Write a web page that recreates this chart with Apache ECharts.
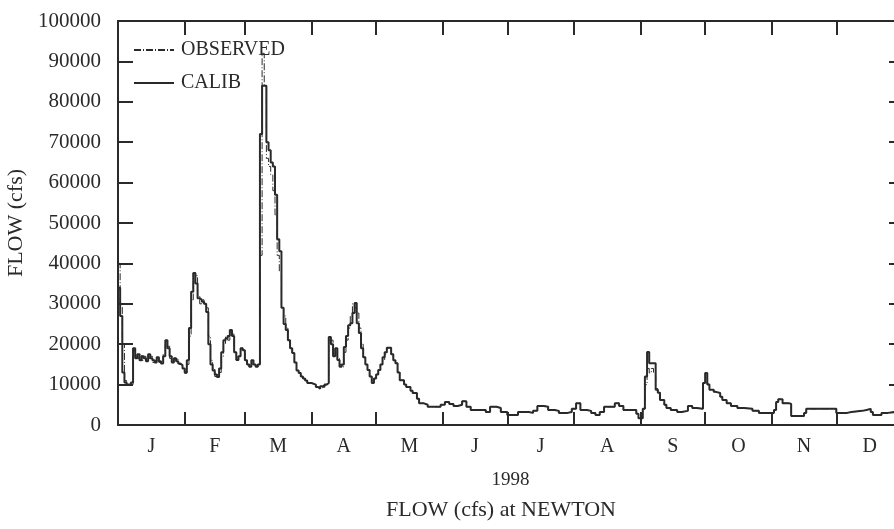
<!DOCTYPE html>
<html>
<head>
<meta charset="utf-8">
<script src="https://cdn.jsdelivr.net/npm/echarts@6/dist/echarts.min.js"></script>
<style>
html,body{margin:0;padding:0;background:#fff;}
#chart{width:894px;height:529px;}
</style>
</head>
<body>
<div id="chart"></div>
<script>
// day of year (0 = Jan 1) and flows, cfs
let days = [0,1,2,3,4,6,7,8,9,10,11,12,13,14,15,16,17,18,19,20,21,22,23,24,25,26,27,28,29,30,
    31,32,33,34,35,36,37,38,39,40,41,42,43,44,45,46,47,48,49,50,51,52,53,54,55,56,57,58,59,60,
    61,62,63,64,65,66,67,68,69,70,71,72,73,74,75,76,77,78,79,80,81,82,83,84,85,86,87,88,90,92,
    93,94,95,96,97,98,99,100,101,102,103,104,105,106,107,108,109,110,111,112,113,114,115,116,117,118,119,120,
    121,122,123,124,125,126,127,128,129,130,131,133,134,136,137,139,140,142,144,148,150,152,154,156,158,160,
    162,164,168,171,173,176,178,181,186,191,193,195,198,200,203,205,209,211,213,215,218,220,222,224,226,229,
    231,233,235,239,241,242,244,245,246,247,248,249,250,251,252,254,255,257,260,262,265,267,269,272,273,274,
    275,277,278,280,281,283,285,288,291,295,298,303,305,306,307,309,312,313,319,320,334,339,341,346,348,350,
    351,355,358,361,365];
let calibFlow = [34000,27000,13000,10500,10000,10500,19000,16500,17500,16000,17000,16500,15800,17500,16500,16000,15500,16800,15800,15200,17000,21000,19000,17000,15500,16500,15800,15200,14800,14000,
    13000,16000,24000,33000,37600,35000,31400,31000,30500,30000,28000,20000,15000,13500,12500,11900,14000,18000,21000,21500,22000,23500,22000,18000,16100,17000,19000,18500,16000,15000,
    14400,16000,15000,14400,15000,72000,84000,84000,70000,68000,65000,64000,57000,46000,43000,29000,25000,23500,21000,19000,17800,15500,13500,12900,12000,11500,11000,10400,10000,9400,
    9000,9600,9400,10000,10400,21800,20000,17000,19000,16100,14400,15000,19300,22000,24700,25200,27700,30200,25200,22800,19000,16800,15000,13600,12000,10400,11500,12500,
    13600,15000,16800,18000,19100,19100,17500,16000,15300,13000,11100,10000,9400,8500,7900,6500,5400,5000,4500,4500,5000,5700,5200,4700,5000,5900,
    4500,3700,3700,3200,4500,4200,3200,2500,3200,3000,3500,4700,4500,3700,3500,3000,3200,4000,5400,3700,3500,3000,2500,3200,4500,4500,
    5400,4700,3700,3700,2800,1700,4000,12000,18100,15300,15300,15300,8700,8000,6200,5000,4200,3700,3200,3500,4700,4200,4000,10400,12900,10000,
    8700,8200,7900,7000,6200,5400,4700,4200,4000,3500,3000,3000,3700,5700,6400,5400,5200,2200,3000,4000,3000,3200,3500,3700,4000,3200,
    2500,3000,3200,2800,3000];
let observedFlow = [40000,30000,20000,11000,10000,10000,18500,17000,16500,17500,16000,17000,15800,16500,17000,15500,16000,16800,15500,15200,17500,20500,19500,16500,16000,16500,16200,15000,15000,14000,
    12800,15000,22000,31000,37600,37000,32000,30000,31000,30000,29000,22000,16000,14000,12000,12500,13000,17000,20000,22000,21000,23000,22500,18000,16000,17000,19000,18500,16000,15000,
    14400,15000,14800,14400,15000,42000,92000,84000,66000,64000,62000,58000,52000,42000,38000,29000,27000,24000,21000,19000,17800,15500,13500,12900,12000,11500,11000,10400,10000,9400,
    9000,9200,9600,10000,10400,21000,21000,17500,18000,16500,15000,14400,18000,21000,24000,27000,30000,29000,27700,24000,20000,16800,15000,13600,12000,10400,11500,12500,
    13600,15000,16000,17500,19100,19100,17500,16000,15300,13000,11100,10000,9400,8500,7900,6500,5400,5000,4500,4500,5000,5700,5200,4700,5000,5900,
    4500,3700,3700,3200,4500,4200,3200,2500,3200,3000,3500,4700,4500,3700,3500,3000,3200,4000,5400,3700,3500,3000,2500,3200,4500,4500,
    5400,4700,3700,3700,2800,1700,4000,10000,14000,12900,14000,12900,9000,8200,6200,5000,4200,3700,3200,3500,4700,4200,4000,10400,10400,10000,
    8700,8200,7900,7000,6200,5400,4700,4200,4000,3500,3000,3000,3700,5700,6400,5400,5200,2200,3000,4000,3000,3200,3500,3700,4000,3200,
    2500,3000,3200,2800,3000];
let months = ['J','F','M','A','M','J','J','A','S','O','N','D'];
let monthStarts = [31,59,90,120,151,181,212,243,273,304,334];
let monthMids = [15.5,45,74.5,105,135.5,166,196.5,227.5,258,288.5,319,349.5];

let dom = document.getElementById("chart");
let chart = echarts.init(dom, null, {renderer: 'canvas'});
let font = 'Liberation Serif';
let ink = '#2a2a2a';

let calibData = [];
let observedData = [];
for (let i in days) {
    calibData.push([days[i], calibFlow[i]]);
    observedData.push([days[i], observedFlow[i]]);
}

// frame: all four sides drawn as axes, ticks pointing inward
let frameLine = {onZero: false, lineStyle: {color: ink, width: 2}};

let option = {
    backgroundColor: '#fff',
    animation: false,
    textStyle: {fontFamily: font, color: ink},
    grid: {left: 118, top: 21, width: 785, height: 404, outerBoundsMode: 'none', containLabel: false},
    legend: {
        orient: 'vertical',
        left: 128,
        top: 35,
        itemWidth: 40,
        itemHeight: 12,
        itemGap: 13,
        data: ['OBSERVED', 'CALIB'],
        itemStyle: {opacity: 0},
        textStyle: {fontFamily: font, fontSize: 20, color: ink, padding: [0, 0, 0, 2]}
    },
    xAxis: [{
        type: 'value',
        min: 0,
        max: 365,
        position: 'bottom',
        name: '1998',
        nameLocation: 'middle',
        nameGap: 46,
        nameTextStyle: {fontFamily: font, fontSize: 19, color: ink},
        axisLine: frameLine,
        axisTick: {inside: true, length: 13, customValues: monthStarts, lineStyle: {color: ink, width: 2}},
        axisLabel: {
            customValues: monthMids,
            margin: 12,
            fontFamily: font,
            fontSize: 20,
            color: ink,
            formatter: function (v) {
                let k = monthMids.indexOf(v);
                return k >= 0 ? months[k] : '';
            }
        },
        splitLine: {show: false}
    }, {
        type: 'value',
        min: 0,
        max: 365,
        position: 'top',
        axisLine: frameLine,
        axisTick: {inside: true, length: 14, customValues: monthStarts, lineStyle: {color: ink, width: 2}},
        axisLabel: {show: false},
        splitLine: {show: false}
    }],
    yAxis: [{
        type: 'value',
        min: 0,
        max: 100000,
        interval: 10000,
        position: 'left',
        name: 'FLOW (cfs)',
        nameLocation: 'middle',
        nameGap: 88,
        nameTextStyle: {fontFamily: font, fontSize: 22, color: ink},
        axisLine: {show: true, onZero: false, lineStyle: {color: ink, width: 2}},
        axisTick: {inside: true, length: 15, lineStyle: {color: ink, width: 2}},
        axisLabel: {
            margin: 17,
            fontFamily: font,
            fontSize: 21,
            color: ink,
            formatter: function (v) { return String(v); }
        },
        splitLine: {show: false}
    }, {
        type: 'value',
        min: 0,
        max: 100000,
        interval: 10000,
        position: 'right',
        axisLine: {show: true, onZero: false, lineStyle: {color: ink, width: 2}},
        axisTick: {show: true, inside: true, length: 14, lineStyle: {color: ink, width: 2}},
        axisLabel: {show: false},
        splitLine: {show: false}
    }],
    series: [{
        name: 'OBSERVED',
        type: 'line',
        step: 'end',
        symbol: 'none',
        data: observedData,
        lineStyle: {color: ink, width: 1, type: [7, 2, 1, 2]},
        itemStyle: {color: ink},
        z: 3
    }, {
        name: 'CALIB',
        type: 'line',
        step: 'end',
        symbol: 'none',
        data: calibData,
        lineStyle: {color: ink, width: 2},
        itemStyle: {color: ink},
        z: 2
    }],
    graphic: [{
        type: 'text',
        x: 501,
        y: 510,
        style: {
            text: 'FLOW (cfs) at NEWTON',
            fontFamily: font,
            fontSize: 22,
            fill: ink,
            align: 'center',
            verticalAlign: 'middle'
        }
    }]
};
chart.setOption(option);
</script>
</body>
</html>
